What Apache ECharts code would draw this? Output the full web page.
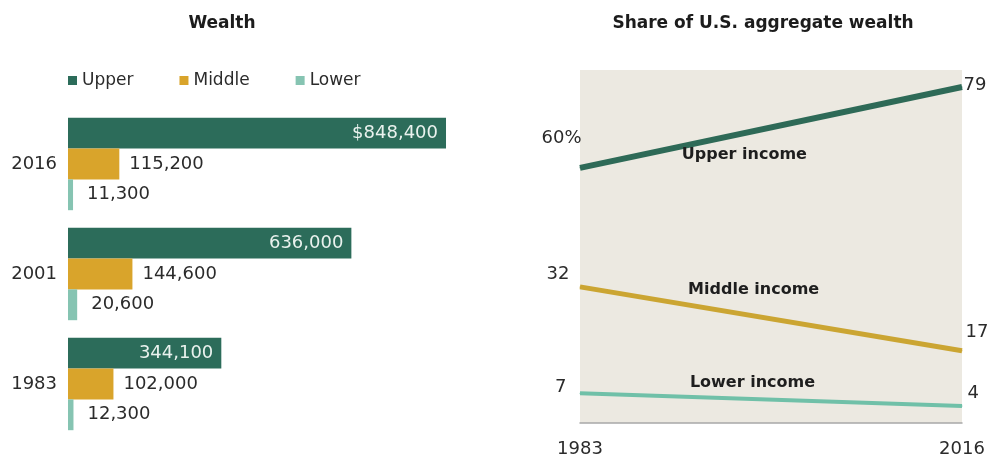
<!DOCTYPE html>
<html>
<head>
<meta charset="utf-8">
<script src="https://cdn.jsdelivr.net/npm/echarts@6/dist/echarts.min.js"></script>
<style>html,body{margin:0;padding:0;background:#fff;}#c{width:992px;height:459px;}</style>
</head>
<body>
<div id="c"></div>
<script>
// Left panel: median wealth by income tier (top to bottom)
const years = ['2016', '2001', '1983'];
const upperWealth = [848400, 636000, 344100];
const middleWealth = [115200, 144600, 102000];
const lowerWealth = [11300, 20600, 12300];

// Right panel: share of aggregate wealth (%)
const shareYears = [1983, 2016];
const upperShare = [60, 79];
const middleShare = [32, 17];
const lowerShare = [7, 4];
const seriesLabels = ['Upper income', 'Middle income', 'Lower income'];

const C_UP = '#2c6c5a', C_MID = '#d9a42b', C_LOW = '#86c4b2';
const L_UP = '#2e6a57', L_MID = '#cba532', L_LOW = '#70c0a8';
const FONT = 'DejaVu Sans';
const TXT = '#2b2b2b';

const fmt = v => v.toLocaleString('en-US');

const chart = echarts.init(document.getElementById('c'), null, {renderer: 'canvas'});

function valLabel(dist, color, prefixIdx) {
  return {
    show: true,
    distance: dist,
    color: color,
    fontFamily: FONT,
    fontSize: 18,
    formatter: p => (p.dataIndex === prefixIdx ? '$' : '') + fmt(p.value)
  };
}

function sharePoints(vals, lbls) {
  return shareYears.map((y, i) => ({
    value: [y, vals[i]],
    label: Object.assign({show: true, distance: 0, color: TXT, fontFamily: FONT, fontSize: 18}, lbls[i])
  }));
}

function lineSeries(name, vals, color, width, lbls, tag, coord) {
  return {
    name: name, type: 'line', xAxisIndex: 1, yAxisIndex: 1,
    symbol: 'circle', symbolSize: 1, showSymbol: true,
    lineStyle: {color: color, width: width}, itemStyle: {color: color},
    data: sharePoints(vals, lbls),
    markPoint: {symbol: 'circle', symbolSize: 1, itemStyle: {color: 'rgba(0,0,0,0)'},
      label: {show: true, position: 'inside', fontFamily: FONT, fontWeight: 'bold', fontSize: 16, color: '#1e1e1e', formatter: p => p.name},
      data: [{name: tag, coord: coord}]}
  };
}

const option = {
  backgroundColor: '#ffffff',
  animation: false,
  title: [
    {text: 'Wealth', left: 217, top: 10, textAlign: 'center',
     textStyle: {fontFamily: FONT, fontWeight: 'bold', fontSize: 17, color: '#1c1c1c'}},
    {text: 'Share of U.S. aggregate wealth', left: 758, top: 10, textAlign: 'center',
     textStyle: {fontFamily: FONT, fontWeight: 'bold', fontSize: 17, color: '#1c1c1c'}}
  ],
  legend: {
    left: 63, top: 67,
    icon: 'rect', itemWidth: 9, itemHeight: 9, itemGap: 46,
    textStyle: {fontFamily: FONT, fontSize: 17, color: TXT},
    data: ['Upper', 'Middle', 'Lower']
  },
  grid: [
    {left: 68, width: 401, top: 109, height: 330, containLabel: false},
    {left: 580, right: 30, top: 70, bottom: 36, show: true, backgroundColor: '#ece9e1', borderWidth: 0}
  ],
  xAxis: [
    {gridIndex: 0, type: 'value', min: 0, max: 900000, show: false},
    {gridIndex: 1, type: 'value', min: 1983, max: 2016,
     axisLine: {show: true, lineStyle: {color: '#a8a8a8', width: 1.5}},
     axisTick: {show: false}, splitLine: {show: false},
     axisLabel: {customValues: shareYears, margin: 17, fontFamily: FONT, fontSize: 18, color: TXT, formatter: v => String(v)}}
  ],
  yAxis: [
    {gridIndex: 0, type: 'category', data: years, inverse: true,
     axisLine: {show: false}, axisTick: {show: false},
     axisLabel: {margin: 11, fontFamily: FONT, fontSize: 18, color: TXT}},
    {gridIndex: 1, type: 'value', min: 0, max: 83, show: false}
  ],
  series: [
    {name: 'Upper', type: 'bar', xAxisIndex: 0, yAxisIndex: 0, data: upperWealth,
     barGap: '0%', barCategoryGap: '16%', itemStyle: {color: C_UP},
     label: Object.assign(valLabel(8, '#eaf2ee', 0), {position: 'insideRight'})},
    {name: 'Middle', type: 'bar', xAxisIndex: 0, yAxisIndex: 0, data: middleWealth,
     barGap: '0%', barCategoryGap: '16%', itemStyle: {color: C_MID},
     label: Object.assign(valLabel(10, TXT, -1), {position: 'right'})},
    {name: 'Lower', type: 'bar', xAxisIndex: 0, yAxisIndex: 0, data: lowerWealth,
     barGap: '0%', barCategoryGap: '16%', itemStyle: {color: C_LOW},
     label: Object.assign(valLabel(14, TXT, -1), {position: 'right'})},

    lineSeries('UpperShare', upperShare, L_UP, 6, [
      {position: 'left', offset: [2, -29], formatter: p => p.value[1] + '%'},
      {position: 'right', offset: [1, -2], formatter: p => String(p.value[1])}
    ], seriesLabels[0], [1997.2, 63]),
    lineSeries('MiddleShare', middleShare, L_MID, 5, [
      {position: 'left', offset: [-10, -13], formatter: p => String(p.value[1])},
      {position: 'right', offset: [3, -18], formatter: p => String(p.value[1])}
    ], seriesLabels[1], [1998.0, 31.3]),
    lineSeries('LowerShare', lowerShare, L_LOW, 4, [
      {position: 'left', offset: [-13, -6], formatter: p => String(p.value[1])},
      {position: 'right', offset: [5, -13], formatter: p => String(p.value[1])}
    ], seriesLabels[2], [1997.9, 9.4])
  ]
};
chart.setOption(option);
</script>
</body>
</html>
